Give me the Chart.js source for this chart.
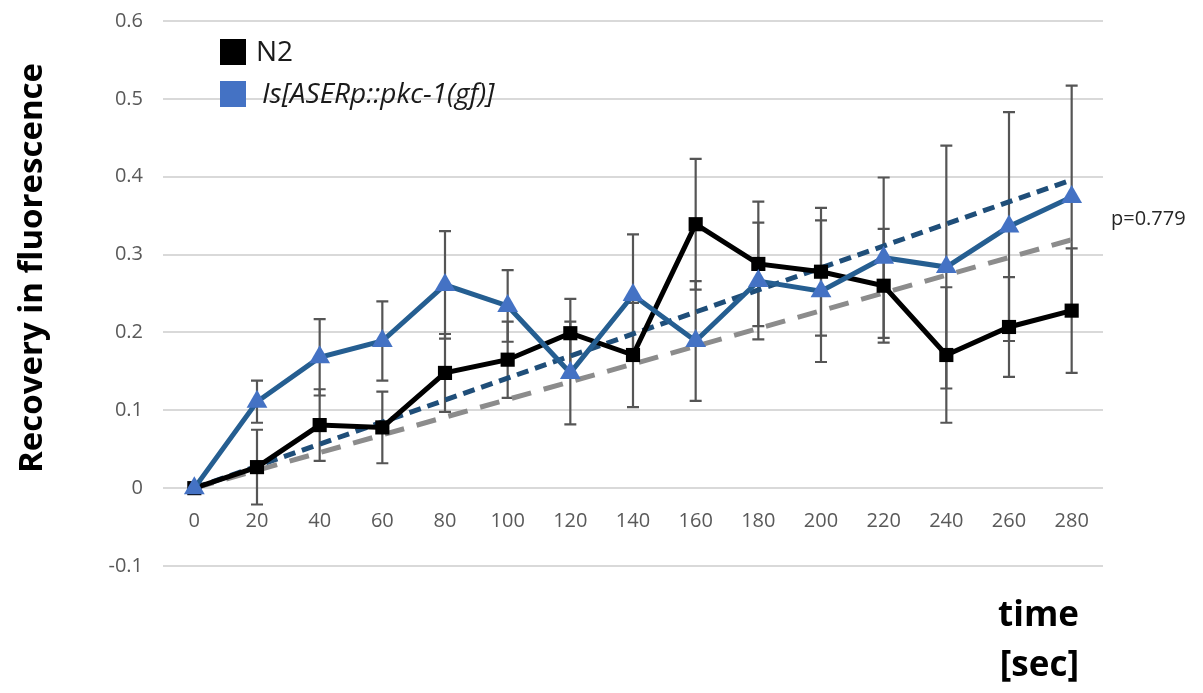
<!DOCTYPE html>
<html>
<head>
<meta charset="utf-8">
<script src="https://cdn.jsdelivr.net/npm/chart.js@4"></script>
<style>
  html, body { margin: 0; padding: 0; background: #fff; }
  #wrap { width: 1203px; height: 693px; }
</style>
</head>
<body>
<div id="wrap"><canvas id="chart" width="1203" height="693"></canvas></div>
<script>
/* ── Data ── */
const timeLabels = ['0', '20', '40', '60', '80', '100', '120', '140', '160', '180', '200', '220', '240', '260', '280'];

const n2Values  = [0, 0.027, 0.081, 0.078, 0.148, 0.165, 0.199, 0.171, 0.339, 0.288, 0.278, 0.260, 0.171, 0.207, 0.228];
const n2Errors  = [0, 0.048, 0.046, 0.046, 0.050, 0.049, 0.044, 0.067, 0.084, 0.080, 0.082, 0.073, 0.087, 0.064, 0.080];

const pkcValues = [0, 0.111, 0.168, 0.189, 0.261, 0.234, 0.148, 0.248, 0.189, 0.266, 0.253, 0.296, 0.284, 0.336, 0.374];
const pkcErrors = [0, 0.027, 0.049, 0.051, 0.069, 0.046, 0.066, 0.078, 0.077, 0.075, 0.091, 0.103, 0.156, 0.147, 0.143];

// trend lines, end points
const n2Trend  = [0, null, null, null, null, null, null, null, null, null, null, null, null, null, 0.319];
const pkcTrend = [0, null, null, null, null, null, null, null, null, null, null, null, null, null, 0.396];

const yTicks = { min: -0.1, max: 0.6, step: 0.1 };

const FONT = "'Open Sans', 'DejaVu Sans', sans-serif";
const TICK_GREY = '#595959';

/* ── Error bars (behind the markers) ── */
const errorBars = {
  id: 'errorBars',
  beforeDatasetsDraw(chart) {
    const { ctx, scales: { x, y } } = chart;
    const sets = [[n2Values, n2Errors], [pkcValues, pkcErrors]];
    ctx.save();
    ctx.strokeStyle = '#555';
    ctx.lineWidth = 2.2;
    sets.forEach(([vals, errs]) => {
      vals.forEach((v, i) => {
        if (!errs[i]) return;
        const px = x.getPixelForValue(i);
        const top = y.getPixelForValue(v + errs[i]);
        const bot = y.getPixelForValue(v - errs[i]);
        ctx.beginPath();
        ctx.moveTo(px, top); ctx.lineTo(px, bot);
        ctx.moveTo(px - 6, top); ctx.lineTo(px + 6, top);
        ctx.moveTo(px - 6, bot); ctx.lineTo(px + 6, bot);
        ctx.stroke();
      });
    });
    ctx.restore();
  }
};

/* ── Texts: legend, axis titles, p value ── */
const texts = {
  id: 'texts',
  afterDraw(chart) {
    const { ctx } = chart;
    ctx.save();

    // legend
    ctx.fillStyle = '#000';
    ctx.fillRect(220, 39, 26, 26);
    ctx.fillStyle = '#4472c4';
    ctx.fillRect(220, 81, 26, 26);
    ctx.textBaseline = 'middle';
    ctx.textAlign = 'left';
    ctx.fillStyle = '#1a1a1a';
    ctx.font = `28px ${FONT}`;
    ctx.fillText('N2', 256, 53);
    ctx.font = `italic 28px ${FONT}`;
    ctx.fillText('Is[ASERp::pkc-1(gf)]', 262, 95);

    // p value
    ctx.fillStyle = '#262626';
    ctx.font = `20px ${FONT}`;
    ctx.fillText('p=0.779', 1111, 219);

    // x title
    ctx.fillStyle = '#000';
    ctx.font = `bold 35px ${FONT}`;
    ctx.textAlign = 'right';
    ctx.fillText('time', 1079, 616);
    ctx.fillText('[sec]', 1079, 666);

    // y title
    ctx.translate(33, 268);
    ctx.rotate(-Math.PI / 2);
    ctx.textAlign = 'center';
    ctx.font = `bold 33px ${FONT}`;
    ctx.fillText('Recovery in fluorescence', 0, 0);

    ctx.restore();
  }
};

/* ── Chart ── */
new Chart(document.getElementById('chart'), {
  type: 'line',
  data: {
    labels: timeLabels,
    datasets: [
      {
        label: 'N2',
        data: n2Values,
        borderColor: '#000',
        backgroundColor: '#000',
        borderWidth: 5,
        pointStyle: 'rect',
        pointRadius: 10,
        pointBorderWidth: 0,
        tension: 0,
        order: 2
      },
      {
        label: 'Is[ASERp::pkc-1(gf)]',
        data: pkcValues,
        borderColor: '#255e91',
        backgroundColor: '#4472c4',
        pointBorderColor: '#4472c4',
        borderWidth: 5,
        pointStyle: 'triangle',
        pointRadius: 12,
        pointBorderWidth: 0,
        tension: 0,
        order: 1
      },
      {
        label: 'N2 trend',
        data: n2Trend,
        borderColor: '#8c8c8c',
        borderWidth: 5,
        borderDash: [20, 13],
        pointRadius: 0,
        spanGaps: true,
        order: 3
      },
      {
        label: 'pkc trend',
        data: pkcTrend,
        borderColor: '#1f4e79',
        borderWidth: 5,
        borderDash: [12, 7],
        pointRadius: 0,
        spanGaps: true,
        order: 3
      }
    ]
  },
  options: {
    responsive: false,
    animation: false,
    layout: { padding: { left: 0, right: 100, top: 21, bottom: 127 } },
    plugins: {
      legend: { display: false },
      tooltip: { enabled: false }
    },
    scales: {
      x: {
        type: 'category',
        offset: true,
        position: { y: 0 },
        grid: { display: false, drawTicks: false },
        border: { display: false },
        ticks: { color: TICK_GREY, font: { family: FONT, size: 20 }, padding: 21, maxRotation: 0, autoSkip: false }
      },
      y: {
        min: yTicks.min,
        max: yTicks.max,
        grid: { color: '#d9d9d9', lineWidth: 2, drawTicks: true, tickLength: 17, tickColor: 'rgba(0,0,0,0)' },
        border: { display: false },
        ticks: {
          stepSize: yTicks.step,
          color: TICK_GREY,
          font: { family: FONT, size: 20 },
          padding: 3,
          callback: v => String(Number(v.toFixed(1)))
        },
        afterFit: s => { s.width = 163; }
      }
    }
  },
  plugins: [errorBars, texts]
});
</script>
</body>
</html>
